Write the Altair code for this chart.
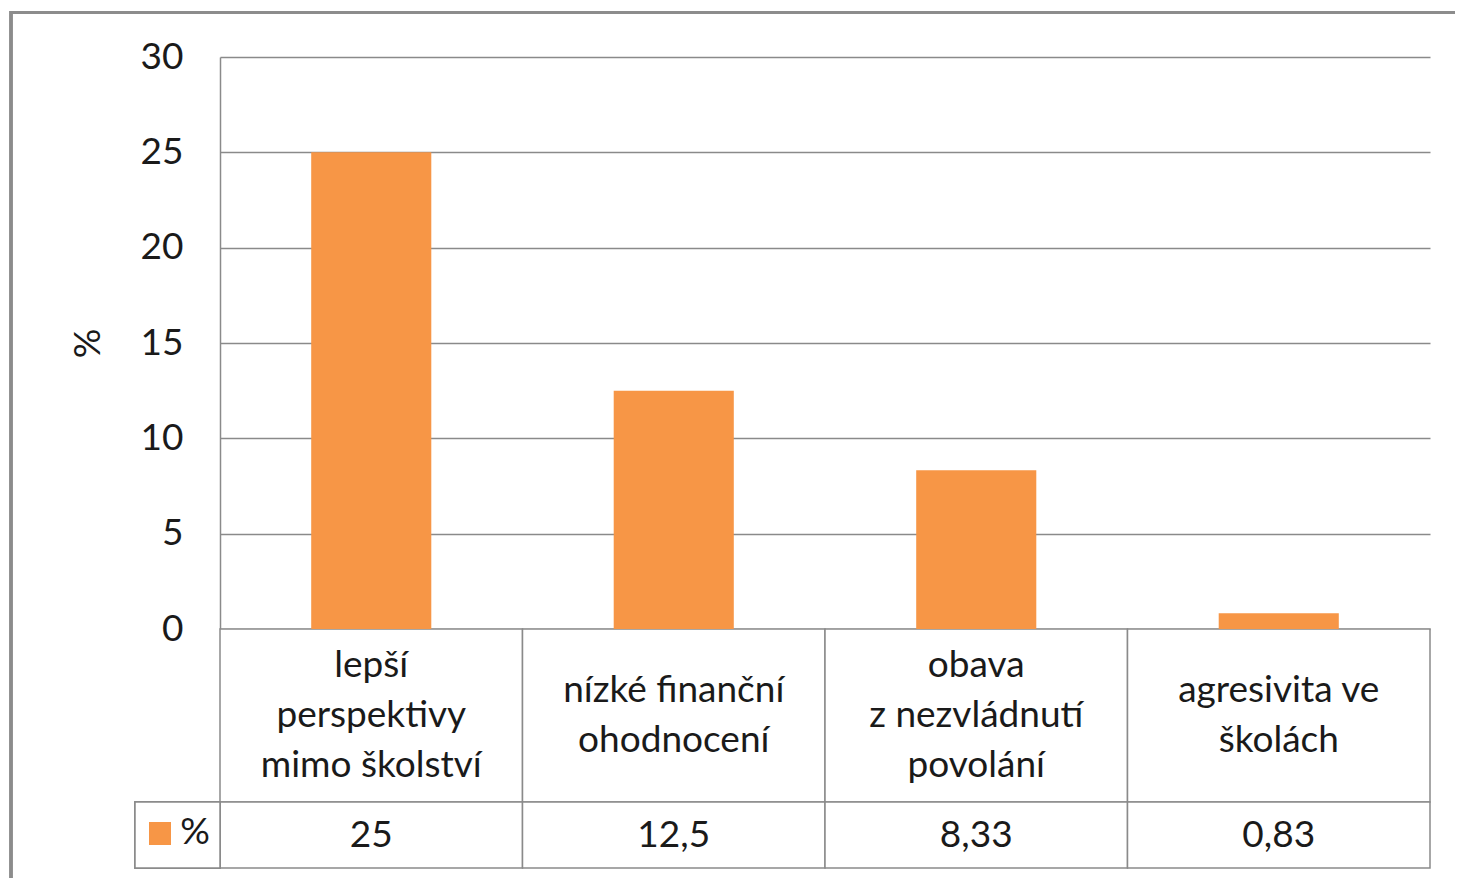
import altair as alt
import pandas as pd

categories = ["lepší perspektivy mimo školství", "nízké finanční ohodnocení",
              "obava z nezvládnutí povolání", "agresivita ve školách"]
header_labels = ["lepší\nperspektivy\nmimo školství", "nízké finanční\nohodnocení",
                 "obava\nz nezvládnutí\npovolání", "agresivita ve\nškolách"]
values = [25, 12.5, 8.33, 0.83]
value_labels = ["25", "12,5", "8,33", "0,83"]
y_ticks = [0, 5, 10, 15, 20, 25, 30]
series_name = "%"

df = pd.DataFrame({"cat": categories, "head": header_labels,
                   "val": values, "vlab": value_labels})
df["nlines"] = df["head"].str.count("\n") + 1

FONT = "Lato"
FS = 37
GRID = "#8a8a8a"
ORANGE = "#F79646"
TXT = "#1a1a1a"
W, PLOT_H, H = 1210, 572, 811
ROW1, ROW2 = 745, 811
LH = 50

base = alt.Chart(df)
x_tab = alt.X("cat:N", sort=categories, axis=None,
              scale=alt.Scale(domain=categories, paddingInner=0, paddingOuter=0))
x_bar = alt.X("cat:N", sort=categories, axis=None,
              scale=alt.Scale(domain=categories, paddingInner=0.603,
                              paddingOuter=0.3015))

border_left = base.mark_rule(color="#8c8c8c", strokeWidth=3).encode(
    x=alt.value(-209), y=alt.value(-46), y2=alt.value(H + 10))
border_top = base.mark_rule(color="#8c8c8c", strokeWidth=3).encode(
    x=alt.value(-210), x2=alt.value(W + 25), y=alt.value(-44.5))

head_cells = base.mark_rect(fill="white", stroke=GRID, strokeWidth=1.5).encode(
    x=x_tab, y=alt.value(PLOT_H), y2=alt.value(ROW1))
val_cells = base.mark_rect(fill="white", stroke=GRID, strokeWidth=1.5).encode(
    x=x_tab, y=alt.value(ROW1), y2=alt.value(ROW2))
legend_cell = base.mark_rect(fill="white", stroke=GRID, strokeWidth=1.5).encode(
    x=alt.value(-85), x2=alt.value(0), y=alt.value(ROW1), y2=alt.value(ROW2))

bars = base.mark_bar(color=ORANGE).encode(
    x=x_bar,
    y=alt.Y("val:Q",
            scale=alt.Scale(domain=[0, 30], range=[PLOT_H, 0], nice=False),
            axis=alt.Axis(values=y_ticks, title="%", grid=True, ticks=False,
                          labelPadding=37, titleAngle=270, titleX=-132,
                          titleY=286, titleAlign="center",
                          titleBaseline="middle")))

mid = (PLOT_H + ROW1) / 2
head_text3 = base.transform_filter(alt.datum.nlines == 3).mark_text(
    font=FONT, fontSize=FS, lineBreak="\n", lineHeight=LH,
    baseline="middle", color=TXT).encode(
    x=x_tab, y=alt.value(mid - LH), text="head:N")
head_text2 = base.transform_filter(alt.datum.nlines == 2).mark_text(
    font=FONT, fontSize=FS, lineBreak="\n", lineHeight=LH,
    baseline="middle", color=TXT).encode(
    x=x_tab, y=alt.value(mid - LH / 2), text="head:N")
val_text = base.mark_text(font=FONT, fontSize=FS, baseline="middle",
                          color=TXT).encode(
    x=x_tab, y=alt.value(779), text="vlab:N")

legend_sq = base.mark_rect(color=ORANGE).encode(
    x=alt.value(-71), x2=alt.value(-49), y=alt.value(765), y2=alt.value(788))
legend_txt = alt.Chart(pd.DataFrame({"t": [series_name]})).mark_text(
    font=FONT, fontSize=FS, baseline="middle", color=TXT).encode(
    x=alt.value(-25), y=alt.value(776), text="t:N")

chart = alt.layer(
    border_left, border_top, head_cells, val_cells, legend_cell, bars,
    head_text3, head_text2, val_text, legend_sq, legend_txt
).resolve_scale(x="independent").properties(
    width=W, height=H,
    autosize=alt.AutoSizeParams(type="none"),
    padding={"left": 212, "top": 49, "right": 25, "bottom": 10},
).configure_view(stroke=None).configure_axis(
    labelFont=FONT, labelFontSize=FS, labelColor=TXT,
    titleFont=FONT, titleFontSize=FS, titleColor=TXT, titleFontWeight="normal",
    gridColor=GRID, gridWidth=1.5, domainColor=GRID, domainWidth=1.5,
)

chart.save("out.html", embed_options={"renderer": "svg", "actions": False})
